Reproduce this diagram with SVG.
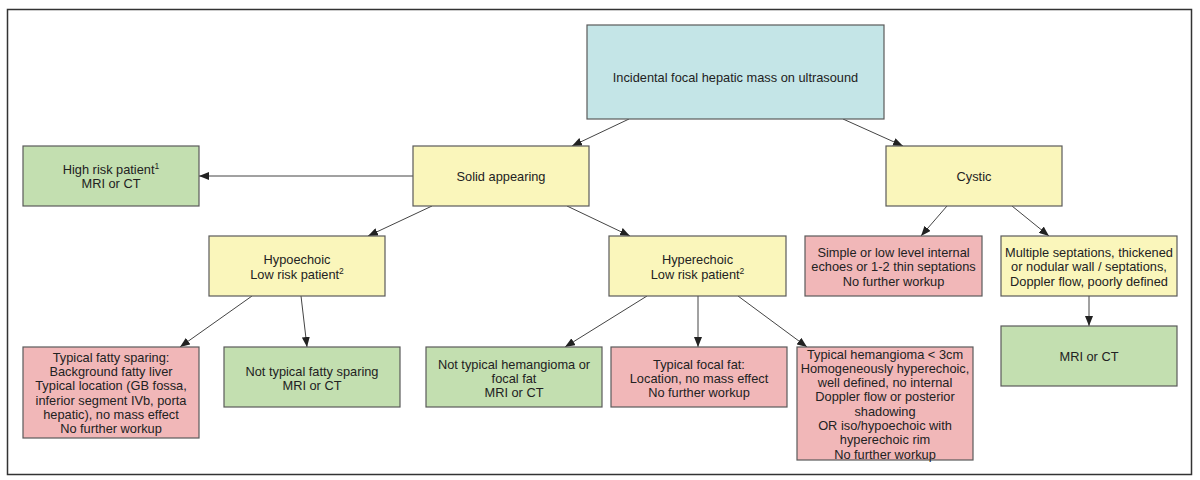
<svg xmlns="http://www.w3.org/2000/svg" width="1200" height="480" viewBox="0 0 1200 480">
<style>
  .box{stroke:#5a5a5a;stroke-width:1.2}
  .teal{fill:#c4e5e7}
  .yel{fill:#faf6bb}
  .grn{fill:#c3dfb0}
  .pnk{fill:#f1b7b8}
  text{font-family:"Liberation Sans",Arial,Helvetica,sans-serif;font-size:12.8px;fill:#222;text-anchor:middle}
  .sup{font-size:8.5px}
  .conn line{stroke:#444;stroke-width:1;marker-end:url(#ah)}
</style>
<defs>
  <marker id="ah" markerUnits="userSpaceOnUse" markerWidth="10" markerHeight="8" viewBox="0 0 10 8" refX="10" refY="4" orient="auto">
    <path d="M0,0 L10,4 L0,8 Z" fill="#222"/>
  </marker>
</defs>
<rect x="7.5" y="9.5" width="1184" height="465" fill="#fff" stroke="#333" stroke-width="1.5"/>

<g class="conn" id="connectors">
  <line x1="629" y1="119" x2="572" y2="146"/>
  <line x1="843" y1="119" x2="903" y2="146"/>
  <line x1="413" y1="176" x2="199" y2="176"/>
  <line x1="432" y1="206" x2="368" y2="236"/>
  <line x1="567" y1="206" x2="630" y2="236"/>
  <line x1="947" y1="206" x2="921" y2="236"/>
  <line x1="1012" y1="206" x2="1049" y2="236"/>
  <line x1="1089" y1="296" x2="1089" y2="326"/>
  <line x1="252" y1="296" x2="180" y2="347"/>
  <line x1="301" y1="296" x2="307" y2="347"/>
  <line x1="647" y1="296" x2="565" y2="347"/>
  <line x1="698" y1="296" x2="698" y2="347"/>
  <line x1="738" y1="296" x2="807" y2="347"/>
</g>

<g id="n-top">
  <rect class="box teal" x="587" y="25" width="297" height="94"/>
  <text x="735.5" y="81.5">Incidental focal hepatic mass on ultrasound</text>
</g>
<g id="n-highrisk">
  <rect class="box grn" x="23" y="146" width="176" height="60"/>
  <text x="111" y="173.5">High risk patient<tspan class="sup" dy="-4.5">1</tspan></text>
  <text x="111" y="187.5">MRI or CT</text>
</g>
<g id="n-solid">
  <rect class="box yel" x="413" y="146" width="176" height="60"/>
  <text x="501" y="181">Solid appearing</text>
</g>
<g id="n-cystic">
  <rect class="box yel" x="886" y="146" width="176" height="60"/>
  <text x="974" y="181">Cystic</text>
</g>
<g id="n-hypo">
  <rect class="box yel" x="209" y="236" width="176" height="60"/>
  <text x="297" y="263.5">Hypoechoic</text>
  <text x="297" y="278.5">Low risk patient<tspan class="sup" dy="-4.5">2</tspan></text>
</g>
<g id="n-hyper">
  <rect class="box yel" x="609" y="236" width="177" height="60"/>
  <text x="697.5" y="263.5">Hyperechoic</text>
  <text x="697.5" y="278.5">Low risk patient<tspan class="sup" dy="-4.5">2</tspan></text>
</g>
<g id="n-simple">
  <rect class="box pnk" x="805" y="236" width="177" height="60"/>
  <text x="893.5" y="257">Simple or low level internal</text>
  <text x="893.5" y="271">echoes or 1-2 thin septations</text>
  <text x="893.5" y="285.5">No further workup</text>
</g>
<g id="n-multiple">
  <rect class="box yel" x="1001" y="236" width="176" height="60"/>
  <text x="1089" y="257">Multiple septations, thickened</text>
  <text x="1089" y="271">or nodular wall / septations,</text>
  <text x="1089" y="285.5">Doppler flow, poorly defined</text>
</g>
<g id="n-mri-cystic">
  <rect class="box grn" x="1001" y="326" width="176" height="60"/>
  <text x="1089" y="361">MRI or CT</text>
</g>
<g id="n-fattysparing">
  <rect class="box pnk" x="23" y="347" width="176" height="91"/>
  <text x="111" y="362">Typical fatty sparing:</text>
  <text x="111" y="376.2">Background fatty liver</text>
  <text x="111" y="390.4">Typical location (GB fossa,</text>
  <text x="111" y="404.6">inferior segment IVb, porta</text>
  <text x="111" y="418.8">hepatic), no mass effect</text>
  <text x="111" y="433">No further workup</text>
</g>
<g id="n-notfatty">
  <rect class="box grn" x="224" y="347" width="176" height="60"/>
  <text x="312" y="375.5">Not typical fatty sparing</text>
  <text x="312" y="389.5">MRI or CT</text>
</g>
<g id="n-nothemangioma">
  <rect class="box grn" x="426" y="347" width="176" height="60"/>
  <text x="514" y="368.5">Not typical hemangioma or</text>
  <text x="514" y="382.7">focal fat</text>
  <text x="514" y="396.9">MRI or CT</text>
</g>
<g id="n-focalfat">
  <rect class="box pnk" x="611" y="347" width="176" height="60"/>
  <text x="699" y="368.5">Typical focal fat:</text>
  <text x="699" y="382.7">Location, no mass effect</text>
  <text x="699" y="396.9">No further workup</text>
</g>
<g id="n-hemangioma">
  <rect class="box pnk" x="797" y="347" width="176" height="113"/>
  <text x="885" y="358.5">Typical hemangioma &lt; 3cm</text>
  <text x="885" y="372.8">Homogeneously hyperechoic,</text>
  <text x="885" y="387.1">well defined, no internal</text>
  <text x="885" y="401.4">Doppler flow or posterior</text>
  <text x="885" y="415.7">shadowing</text>
  <text x="885" y="430">OR iso/hypoechoic with</text>
  <text x="885" y="444.3">hyperechoic rim</text>
  <text x="885" y="458.6">No further workup</text>
</g>
</svg>
